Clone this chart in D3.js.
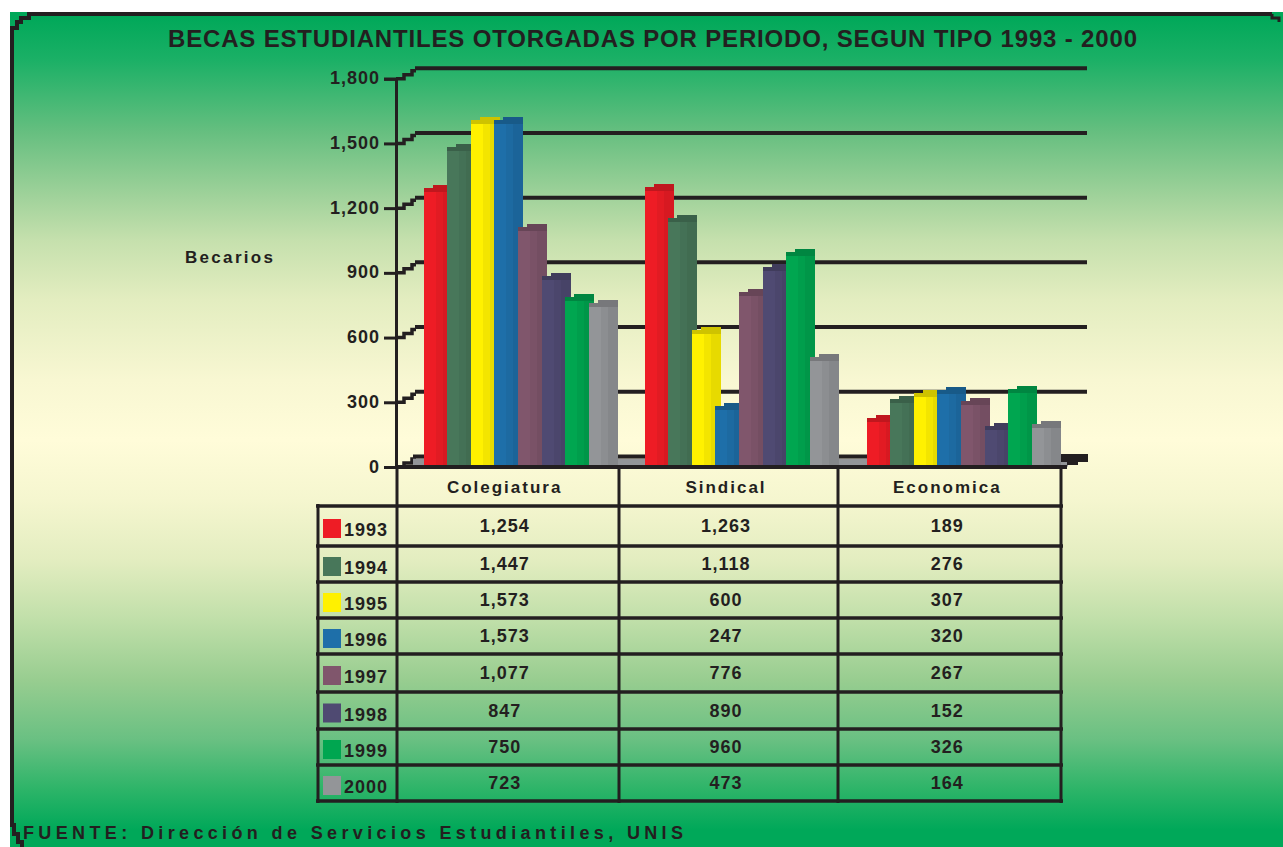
<!DOCTYPE html>
<html>
<head>
<meta charset="utf-8">
<script src="https://cdn.jsdelivr.net/npm/d3@7"></script>
<style>
body { margin: 0; background: #fff; }
svg { display: block; }
text { font-family: "Liberation Sans", sans-serif; font-weight: bold; fill: #231f20; }
</style>
</head>
<body>
<div id="chart"></div>
<script>
const years = ["1993", "1994", "1995", "1996", "1997", "1998", "1999", "2000"];
const categories = ["Colegiatura", "Sindical", "Economica"];
const colegiatura = [1254, 1447, 1573, 1573, 1077, 847, 750, 723];
const sindical = [1263, 1118, 600, 247, 776, 890, 960, 473];
const economica = [189, 276, 307, 320, 267, 152, 326, 164];
const yTicks = [0, 300, 600, 900, 1200, 1500, 1800];
const yearColors = ["#ee1c25", "#48775a", "#fff100", "#1e6fa9", "#80566c", "#4f4a72", "#00a650", "#939598"];
const tableRows = [506, 546, 582, 618, 654, 692, 729, 765, 801];
const bgStops = [[16, "#00a859"], [60, "#1bb066"], [133, "#67bf80"], [200, "#a3d39c"], [240, "#c5e0ad"], [300, "#e3edc0"],
    [380, "#f8f7d2"], [440, "#fffcd9"], [500, "#f5f6cf"], [560, "#e3edc0"], [620, "#c0dfa9"], [680, "#98cd90"],
    [740, "#69c082"], [790, "#2cb468"], [830, "#00a859"]];
const titleText = "BECAS ESTUDIANTILES OTORGADAS POR PERIODO, SEGUN TIPO 1993 - 2000";
const sourceText = "FUENTE: Dirección de Servicios Estudiantiles, UNIS";

const seriesByCategory = [colegiatura, sindical, economica];
const ink = "#231f20";

const width = 1283, height = 847;
const svg = d3.select("#chart").append("svg").attr("width", width).attr("height", height);

// background panel
const grad = svg.append("defs").append("linearGradient").attr("id", "panel-bg")
    .attr("gradientUnits", "userSpaceOnUse")
    .attr("x1", 0).attr("x2", 0).attr("y1", 0).attr("y2", height);
bgStops.forEach(s => {
    grad.append("stop").attr("offset", s[0] / height).attr("stop-color", s[1]);
});

svg.append("rect").attr("x", 10).attr("y", 12).attr("width", width - 10).attr("height", height - 12).attr("fill", "url(#panel-bg)");

// frame with stepped corners
svg.append("path")
    .attr("fill", "none").attr("stroke", ink).attr("stroke-width", 4)
    .attr("d", "M1272,14 H29 V18 H21 V22 H17 V28 H12 V825 H14 V834 H18 V842 H22 V847");
svg.append("path")
    .attr("fill", "none").attr("stroke", ink).attr("stroke-width", 3)
    .attr("d", "M1272,14 V18 H1279 V22");

const y = d3.scaleLinear().domain([0, 1800]).range([467, 78.7]);
const x0 = d3.scaleBand().domain(categories).range([397, 1061]);
const x1 = d3.scaleBand().domain(years).range([26.5, 215.5]).padding(0);

const wallDx = 19, wallDy = -10.5, barDy = -4;
const barW = 29;

// back wall grid
const grid = svg.append("g").selectAll("g").data(yTicks).join("g");
grid.filter(d => d > 0).append("line")
    .attr("x1", 396 + wallDx).attr("x2", 1087)
    .attr("y1", d => y(d) + wallDy).attr("y2", d => y(d) + wallDy)
    .attr("stroke", ink).attr("stroke-width", 4);
grid.append("path")
    .attr("fill", "none").attr("stroke", ink).attr("stroke-width", 3.5)
    .attr("d", d => `M396,${y(d)} H404 V${y(d) - 4} H412 V${y(d) - 8} H416`);

// floor
svg.append("rect").attr("x", 413).attr("y", y(0) + wallDy + 2).attr("width", 655).attr("height", 8).attr("fill", "#939598");
svg.append("rect").attr("x", 1060).attr("y", 462).attr("width", 18).attr("height", 3).attr("fill", "#939598");
svg.append("line").attr("x1", 413).attr("x2", 1087)
    .attr("y1", y(0) + wallDy).attr("y2", y(0) + wallDy)
    .attr("stroke", ink).attr("stroke-width", 4);
svg.append("rect").attr("x", 1060).attr("y", 454).attr("width", 28).attr("height", 8).attr("fill", ink);
svg.append("rect").attr("x", 1067).attr("y", 462).attr("width", 11).attr("height", 3).attr("fill", ink);

// y axis
const yAxis = svg.append("g")
    .attr("transform", "translate(396,0)")
    .call(d3.axisLeft(y).tickValues(yTicks).tickSize(12).tickPadding(4).tickFormat(d3.format(",")));
yAxis.selectAll("path,line").attr("stroke", ink).attr("stroke-width", 3);
yAxis.selectAll("text").attr("font-size", 18).attr("letter-spacing", 1).attr("dy", "0.28em");

// bars, later years drawn over earlier ones
categories.forEach((cat, c) => {
    const g = svg.append("g").attr("transform", `translate(${Math.round(x0(cat))},0)`);
    years.forEach((yr, i) => {
        const v = seriesByCategory[c][i];
        const col = d3.color(yearColors[i]);
        const bar = g.append("g").attr("transform", `translate(${Math.round(x1(yr))},0)`);
        const top = Math.round(y(v) + barDy);
        const bottom = Math.round(y(0) - 1);
        bar.append("rect").attr("x", 0).attr("y", top).attr("width", 12).attr("height", bottom - top).attr("fill", col);
        bar.append("rect").attr("x", 12).attr("y", top).attr("width", 7).attr("height", bottom - top).attr("fill", col.darker(0.14));
        bar.append("rect").attr("x", 19).attr("y", top).attr("width", barW - 19).attr("height", bottom - top).attr("fill", col.darker(0.28));
        // stepped top face
        bar.append("rect").attr("x", 0).attr("y", top - 4).attr("width", barW).attr("height", 4).attr("fill", col.darker(0.6));
        bar.append("rect").attr("x", 9).attr("y", top - 7).attr("width", barW - 9).attr("height", 3).attr("fill", col.darker(0.6));
    });
});

// table lines
const table = svg.append("g").attr("stroke", ink);
table.append("line").attr("x1", 396).attr("x2", 1067).attr("y1", y(0)).attr("y2", y(0)).attr("stroke-width", 4);
table.selectAll(".row").data(tableRows).join("line").attr("class", "row")
    .attr("x1", 316).attr("x2", 1063)
    .attr("y1", d => d).attr("y2", d => d)
    .attr("stroke-width", 3.5);
[397, 619, 838, 1061].forEach(xv => {
    table.append("line").attr("x1", xv).attr("x2", xv).attr("y1", y(0)).attr("y2", 803).attr("stroke-width", 3);
});
table.append("line").attr("x1", 318).attr("x2", 318).attr("y1", 504).attr("y2", 803).attr("stroke-width", 3);

// table text
categories.forEach((cat, c) => {
    const cx = x0(cat) + x0.bandwidth() / 2 - 3;
    svg.append("text").attr("x", cx).attr("y", 493).attr("text-anchor", "middle").attr("font-size", 17).attr("letter-spacing", 2).text(cat);
    years.forEach((yr, i) => {
        svg.append("text")
            .attr("x", cx)
            .attr("y", (tableRows[i] + tableRows[i + 1]) / 2 + 6)
            .attr("text-anchor", "middle")
            .attr("font-size", 18)
            .attr("letter-spacing", 1)
            .text(d3.format(",")(seriesByCategory[c][i]));
    });
});

// legend keys
years.forEach((yr, i) => {
    const mid = (tableRows[i] + tableRows[i + 1]) / 2;
    svg.append("rect").attr("x", 323).attr("y", mid - 7).attr("width", 18).attr("height", 19).attr("fill", yearColors[i]);
    svg.append("text").attr("x", 344).attr("y", mid + 10).attr("font-size", 18).attr("letter-spacing", 1).text(yr);
});

// titles
svg.append("text").attr("x", 168).attr("y", 47).attr("font-size", 24).attr("textLength", 969).attr("lengthAdjust", "spacing").text(titleText);
svg.append("text").attr("x", 185).attr("y", 263).attr("font-size", 17).attr("textLength", 88).attr("lengthAdjust", "spacing").text("Becarios");
svg.append("text").attr("x", 23).attr("y", 839).attr("font-size", 18).attr("textLength", 660).attr("lengthAdjust", "spacing").text(sourceText);
</script>
</body>
</html>
